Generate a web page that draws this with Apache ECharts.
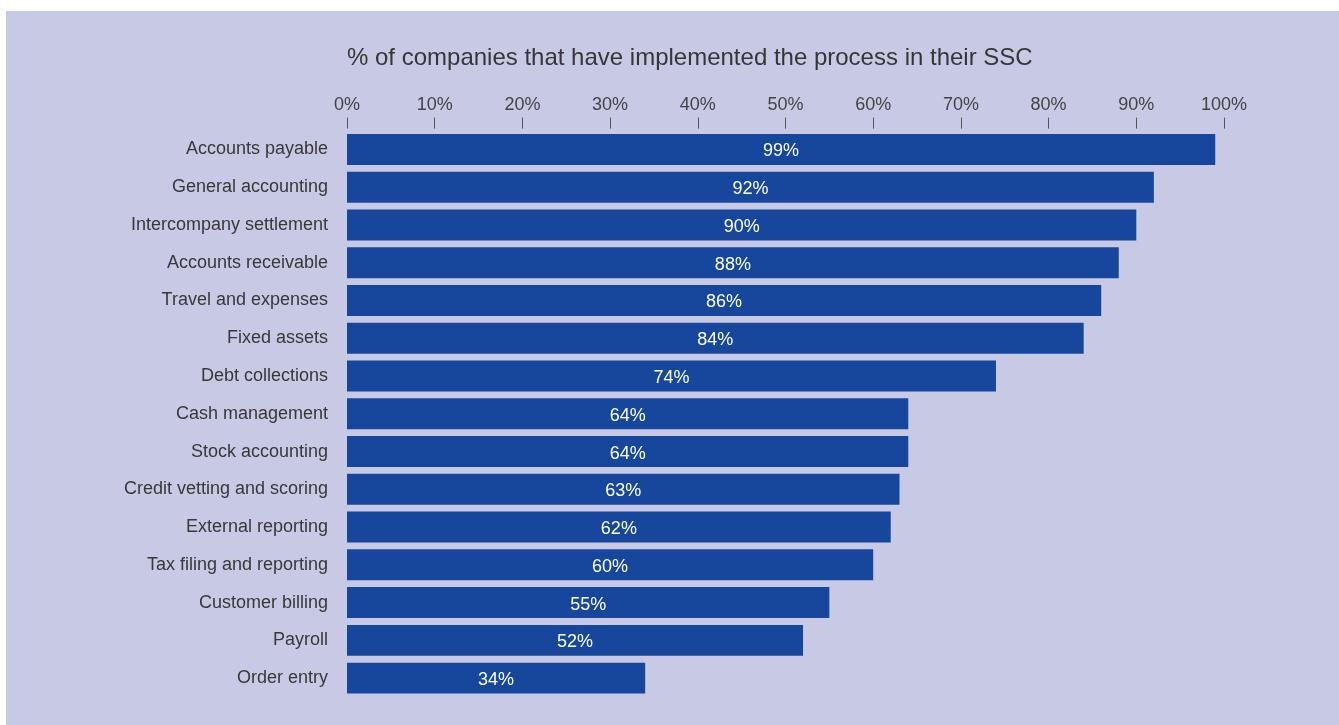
<!DOCTYPE html>
<html>
<head>
<meta charset="utf-8">
<script src="https://cdn.jsdelivr.net/npm/echarts@6/dist/echarts.min.js"></script>
<style>
html,body{margin:0;padding:0;background:#ffffff;width:1339px;height:725px;overflow:hidden;}
#chart{position:absolute;left:6px;top:11px;width:1333px;height:714px;background:#c8c9e5;}
</style>
</head>
<body>
<div id="chart"></div>
<script>
const titleText = '% of companies that have implemented the process in their SSC';
const categories = [
  'Accounts payable','General accounting','Intercompany settlement','Accounts receivable',
  'Travel and expenses','Fixed assets','Debt collections','Cash management','Stock accounting',
  'Credit vetting and scoring','External reporting','Tax filing and reporting','Customer billing',
  'Payroll','Order entry'
];
const values = [99, 92, 90, 88, 86, 84, 74, 64, 64, 63, 62, 60, 55, 52, 34];
const tickMin = 0, tickMax = 100, tickStep = 10;

const FONT = '"Liberation Sans", Arial, sans-serif';
const chart = echarts.init(document.getElementById('chart'), null, {renderer: 'canvas'});
chart.setOption({
  backgroundColor: '#c8c9e5',
  animation: false,
  title: {
    text: titleText,
    left: 341,
    top: 35,
    padding: 0,
    textStyle: {fontFamily: FONT, fontSize: 24, fontWeight: 'normal', color: '#363636'}
  },
  grid: {left: 341, right: 115, top: 119.6, bottom: 28, containLabel: false},
  xAxis: {
    type: 'value',
    position: 'top',
    min: tickMin, max: tickMax, interval: tickStep,
    offset: 2,
    axisLine: {show: false},
    axisTick: {show: true, length: 11, lineStyle: {color: '#555555', width: 1}},
    splitLine: {show: false},
    axisLabel: {
      formatter: v => v + '%',
      fontFamily: FONT, fontSize: 18, color: '#444444', margin: 15
    }
  },
  yAxis: {
    type: 'category',
    data: categories,
    inverse: true,
    axisLine: {show: false},
    axisTick: {show: false},
    axisLabel: {fontFamily: FONT, fontSize: 18, color: '#383838', margin: 19}
  },
  series: [{
    type: 'bar',
    data: values,
    barCategoryGap: '18%',
    itemStyle: {color: '#17479c'},
    label: {
      show: true,
      position: 'inside',
      offset: [0, 2],
      formatter: p => p.value + '%',
      fontFamily: FONT, fontSize: 18, color: '#ffffff'
    }
  }]
});
</script>
</body>
</html>
